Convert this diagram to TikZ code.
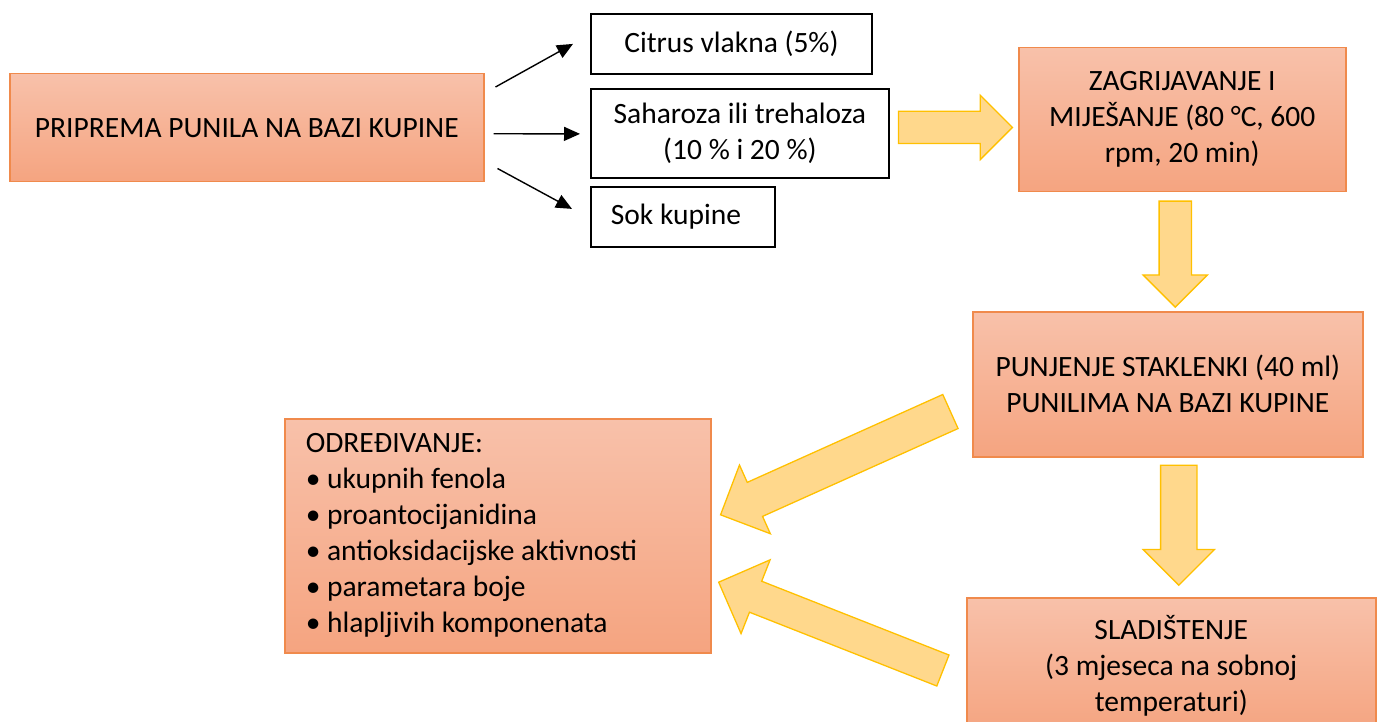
\documentclass[tikz,border=0pt]{standalone}
\usepackage{fontspec}
\setmainfont{Carlito}
\usetikzlibrary{arrows.meta}
\usetikzlibrary{calc}
\usetikzlibrary{positioning}
\usetikzlibrary{shapes.arrows}

\definecolor{salmontop}{RGB}{248,193,170}
\definecolor{salmonbot}{RGB}{245,164,128}
\definecolor{salmonedge}{RGB}{240,138,76}
\definecolor{goldfill}{RGB}{255,216,140}
\definecolor{goldedge}{RGB}{255,192,0}

\tikzset{
    stage/.style={
        rectangle, draw=salmonedge, line width=1.5pt,
        top color=salmontop, bottom color=salmonbot,
        align=center, inner sep=0pt, anchor=north west,
    },
    ingredient/.style={
        rectangle, draw=black, line width=1.8pt, fill=white,
        align=center, inner sep=0pt, anchor=north west,
    },
    flow/.style={
        single arrow, draw=goldedge, line width=1.3pt, fill=goldfill,
        inner xsep=0pt, single arrow head indent=0pt, anchor=tail,
    },
    branch/.style={-{Triangle[length=16pt,width=14pt]}, line width=1.4pt},
}

\begin{document}
\begin{tikzpicture}[x=1pt, y=-1pt, font=\fontsize{29.5}{36}\selectfont]
        \useasboundingbox (0,0) rectangle (1378,722);

        % left side: preparation and ingredients
        \node (pripr) at (9,73) [stage,
            minimum width=474pt, minimum height=108pt,
        ] {PRIPREMA PUNILA NA BAZI KUPINE};

        \node (citrus) at (590,13) [ingredient,
            minimum width=281pt, minimum height=60pt,
        ] {Citrus vlakna (5\%)};
        \node (sah) at (590,88) [ingredient,
            minimum width=298pt, minimum height=89pt,
        ] {Saharoza ili trehaloza\\(10 \% i 20 \%)};
        \node (sok) at (590,186) [ingredient,
            minimum width=184pt, minimum height=60pt,
            text width=144pt, inner xsep=20pt, align=flush left,
        ] {Sok kupine};

        \draw[branch] ($(pripr.north east)+(11,14)$) -- ($(citrus.west)+(-17,0)$);
        \draw[branch] ($(pripr.east)+(9,6)$) -- ($(sah.west)+(-10,0.5)$);
        \draw[branch] ($(pripr.south east)+(13,-14)$) -- ($(sok.west)+(-18,-8)$);

        % right side: process steps
        \node (zag) at (1018,47) [stage,
            minimum width=327pt, minimum height=144pt,
        ] {ZAGRIJAVANJE I\\MIJEŠANJE (80 °C, 600\\rpm, 20 min)};
        \node (punj) at (972,311) [stage,
            minimum width=390pt, minimum height=145pt,
        ] {PUNJENJE STAKLENKI (40 ml)\\PUNILIMA NA BAZI KUPINE};
        \node (slad) at (966,597) [stage,
            minimum width=409pt, minimum height=136pt,
        ] {SLADIŠTENJE\\(3 mjeseca na sobnoj\\temperaturi)};
        \node (odr) at (284,418) [stage,
            minimum width=426pt, minimum height=234pt,
            text width=384pt, inner xsep=21pt, align=flush left,
        ] {ODREĐIVANJE:\\
           \textbullet\ ukupnih fenola\\
           \textbullet\ proantocijanidina\\
           \textbullet\ antioksidacijske aktivnosti\\
           \textbullet\ parametara boje\\
           \textbullet\ hlapljivih komponenata};

        % block arrows between the steps
        \node (toheat) at ($(sah.east)+(8,-6)$) [flow,
            minimum height=114pt, inner ysep=15.5pt, single arrow head extend=16pt,
        ] {};
        \node (tofill) at ($(zag.south)+(-7,8)$) [flow, rotate=-90,
            minimum height=106pt, inner ysep=15.5pt, single arrow head extend=16pt,
        ] {};
        \node (tostore) at ($(punj.south)+(11,7)$) [flow, rotate=-90,
            minimum height=120pt, inner ysep=17.5pt, single arrow head extend=17.5pt,
        ] {};
        \node (fillanalysis) at ($(punj.west)+(-21,27)$) [flow, rotate=204.2,
            minimum height=252pt, inner ysep=18pt, single arrow head extend=19pt,
        ] {};
        \node (storeanalysis) at ($(slad.west)+(-22.5,5)$) [flow, rotate=158.5,
            minimum height=241pt, inner ysep=16pt, single arrow head extend=23pt,
        ] {};
    \end{tikzpicture}
\end{document}
